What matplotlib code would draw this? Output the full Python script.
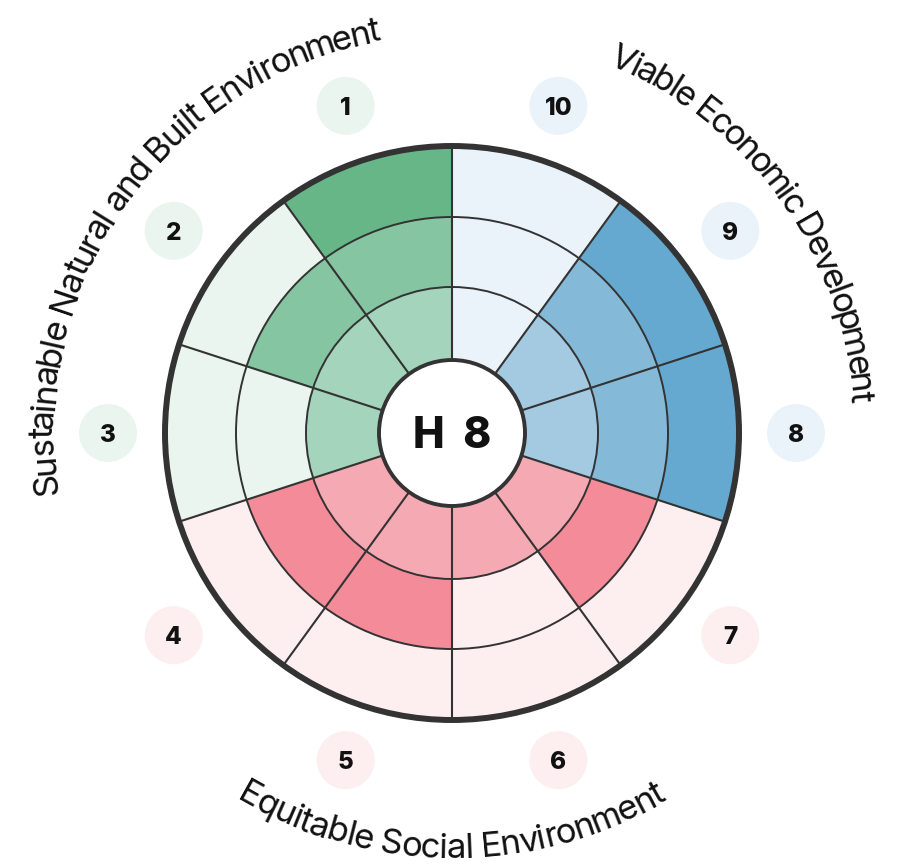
import numpy as np
import matplotlib.pyplot as plt
from matplotlib.patches import Wedge, Circle
from matplotlib.font_manager import FontProperties, findfont
from matplotlib.ft2font import FT2Font

# data
sector_labels = ["1", "2", "3", "4", "5", "6", "7", "8", "9", "10"]
levels = [3, 2, 1, 2, 2, 1, 2, 3, 3, 0]
groups = ["green", "green", "green", "red", "red", "red", "red", "blue", "blue", "blue"]
center_label = "H 8"
title_green = "Sustainable Natural and Built Environment"
title_red = "Equitable Social Environment"
title_blue = "Viable Economic Development"

# pale, ring1, ring2, ring3
palette = {
    "green": ["#ebf5ef", "#a4d4bb", "#86c5a1", "#66b688"],
    "red": ["#fdeef0", "#f5a9b2", "#f48b98", "#ef6b7b"],
    "blue": ["#ebf3fa", "#a4cae2", "#85b9d8", "#66a9d0"],
}

FONT = "Inter"
cx, cy = 452, 433
radii = [73, 146, 216, 287]
line_col = "#333333"

fig = plt.figure(figsize=(8.99, 8.66), dpi=100)
ax = fig.add_axes([0, 0, 1, 1])
ax.set_xlim(0, 899)
ax.set_ylim(0, 866)
ax.axis("off")

n = len(sector_labels)
step = 360 / n
for k in range(n):
    t1 = 90 + step * k
    pal = palette[groups[k]]
    for ring in range(3):
        col = pal[ring + 1] if levels[k] > ring else pal[0]
        ax.add_patch(Wedge((cx, cy), radii[ring + 1], t1, t1 + step,
                           width=radii[ring + 1] - radii[ring],
                           facecolor=col, edgecolor="none", zorder=1))

for r in radii[1:3]:
    ax.add_patch(Circle((cx, cy), r, fill=False, ec=line_col, lw=1.4, zorder=2))
for k in range(n):
    a = np.radians(90 + step * k)
    ax.plot([cx + radii[0] * np.cos(a), cx + radii[3] * np.cos(a)],
            [cy + radii[0] * np.sin(a), cy + radii[3] * np.sin(a)],
            color=line_col, lw=1.5, zorder=3, solid_capstyle="butt")
ax.add_patch(Circle((cx, cy), radii[3], fill=False, ec=line_col, lw=4.3, zorder=4))
ax.add_patch(Circle((cx, cy), radii[0], fc="white", ec=line_col, lw=2.8, zorder=4))

px = 100 / 72  # pixels per point
fs_c = 30.5
ax.text(cx, cy - 0.36 * fs_c * px, "H  8", ha="center", va="baseline",
        fontsize=fs_c, fontweight=800, family=FONT, color="#111111", zorder=5)

# numbered badges
fs_b = 17.5
for k in range(n):
    a = np.radians(90 + step * k + step / 2)
    bx, by = cx + 344 * np.cos(a), cy + 344 * np.sin(a)
    ax.add_patch(Circle((bx, by), 29, fc=palette[groups[k]][0], ec="none", zorder=2))
    ax.text(bx, by - 0.36 * fs_b * px, sector_labels[k], ha="center", va="baseline",
            fontsize=fs_b, fontweight=800, family=FONT, color="#111111", zorder=3)


def advances(text, size):
    font = FT2Font(findfont(FontProperties(family=FONT)))
    font.set_size(size, 72)
    return np.array([font.load_char(ord(c)).linearHoriAdvance / 65536 for c in text]) * px


def arc_text(text, mid_deg, radius, span_deg, size, clockwise):
    adv = advances(text, size)
    s = np.radians(span_deg) * radius / adv.sum()
    pos = (np.cumsum(adv) - adv / 2 - adv.sum() / 2) * s
    for c, p in zip(text, pos):
        if c == " ":
            continue
        if clockwise:
            th = mid_deg - np.degrees(p / radius)
            rot = th - 90
        else:
            th = mid_deg + np.degrees(p / radius)
            rot = th + 90
        t = np.radians(th)
        ax.text(cx + radius * np.cos(t), cy + radius * np.sin(t), c, rotation=rot,
                rotation_mode="anchor", ha="center", va="baseline",
                fontsize=size, family=FONT, color="#111111")


fs_t = 25
arc_text(title_green, 144.4, 399, 88.3, fs_t, True)
arc_text(title_blue, 35.6, 400, 62.6, fs_t, True)
arc_text(title_red, 270, 425, 60.8, fs_t, False)

fig.savefig("out.png", dpi=100)
